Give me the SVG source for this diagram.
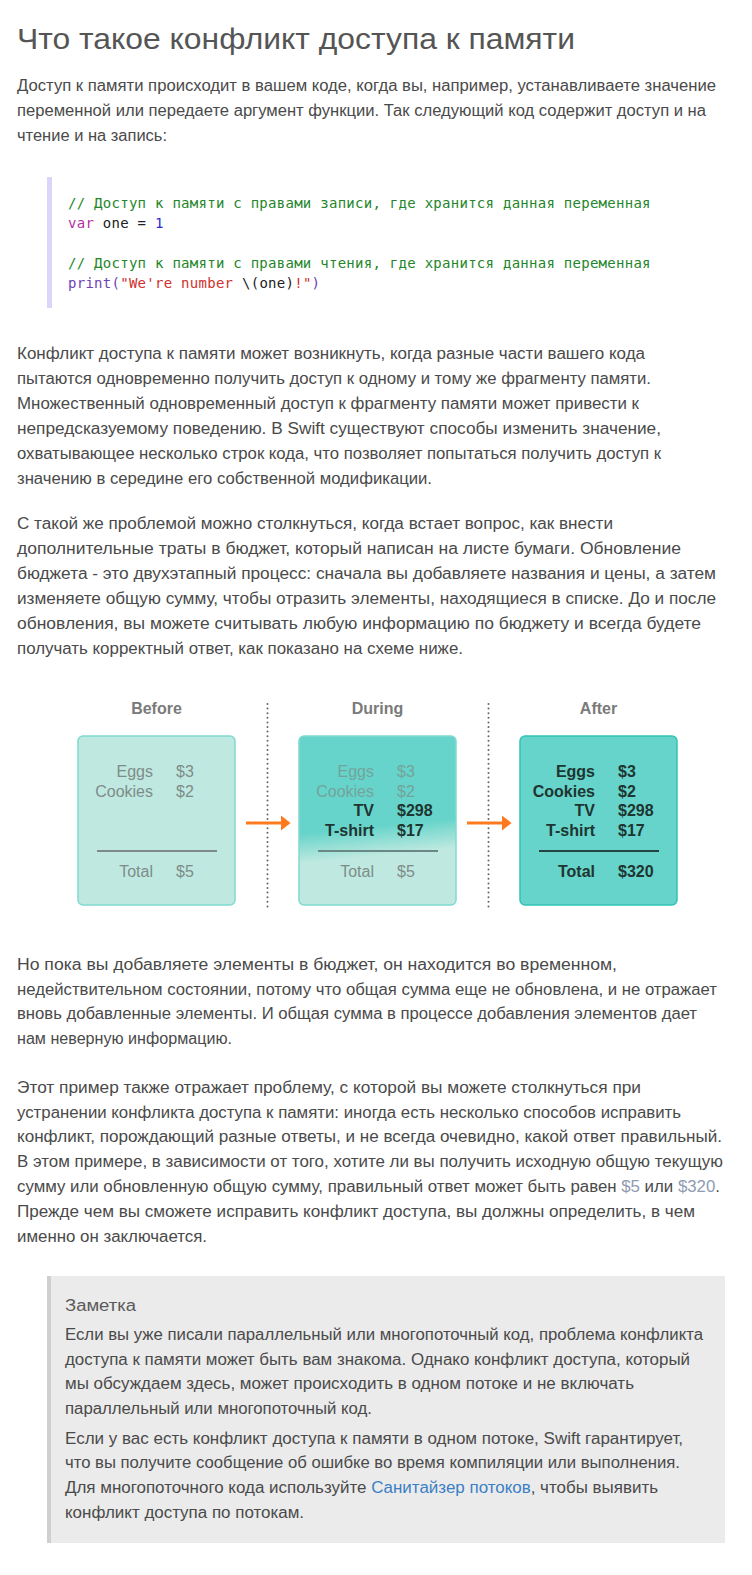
<svg xmlns="http://www.w3.org/2000/svg" width="752" height="1575" viewBox="0 0 752 1575">
<defs>
<style>
.title{font-family:"Liberation Sans",Arial,sans-serif;font-size:29px;fill:#555555}
.p{font-family:"Liberation Sans",Arial,sans-serif;font-size:16px;fill:#4a4a4a}
.code{font-family:"DejaVu Sans Mono",monospace;font-size:14px;letter-spacing:0.27px}
.cm{fill:#24862a}
.kw{fill:#b4309f}
.num{fill:#2b2bd6}
.fn{fill:#6f3fb5}
.str{fill:#d0312d}
.pl{fill:#222222}
.lbl{font-family:"Liberation Sans",Arial,sans-serif;font-size:16px;font-weight:bold;fill:#7a7a7a;text-anchor:middle}
.it{font-family:"Liberation Sans",Arial,sans-serif;font-size:16px}
.end{text-anchor:end}
.b{font-weight:bold}
.g1{fill:#7e8c89}
.g2{fill:#74a39c}
.dk{fill:#1e3531}
.amt{fill:#8e9bb0}
.lnk{fill:#3b7fc4}
.dots{stroke:#666666;stroke-width:2;stroke-linecap:round;stroke-dasharray:0 4.6;fill:none}
.arr{stroke:#ff7a1f;stroke-width:3;fill:none}
</style>
<linearGradient id="gDuring" gradientUnits="userSpaceOnUse" x1="376" y1="826" x2="379" y2="856">
<stop offset="0" stop-color="#66d4ca"/>
<stop offset="1" stop-color="#bfe9e0"/>
</linearGradient>
<marker id="ah" markerWidth="4" markerHeight="5" refX="1" refY="2.5" orient="auto" markerUnits="strokeWidth">
<path d="M0,0 L3.2,2.5 L0,5 Z" fill="#ff7a1f"/>
</marker>
</defs>
<rect width="752" height="1575" fill="#ffffff"/>

<g id="title">
<text class="title" x="17" y="49" textLength="558" lengthAdjust="spacingAndGlyphs">Что такое конфликт доступа к памяти</text>
</g>

<g id="para1">
<text class="p" x="17" y="91" textLength="699" lengthAdjust="spacingAndGlyphs">Доступ к памяти происходит в вашем коде, когда вы, например, устанавливаете значение</text>
<text class="p" x="17" y="116" textLength="689" lengthAdjust="spacingAndGlyphs">переменной или передаете аргумент функции. Так следующий код содержит доступ и на</text>
<text class="p" x="17" y="141" textLength="150" lengthAdjust="spacingAndGlyphs">чтение и на запись:</text>
</g>

<g id="code-block">
<rect x="47" y="177" width="5" height="131" fill="#dad6fa"/>
<text class="code" x="68" y="208"><tspan class="cm">// Доступ к памяти с правами записи, где хранится данная переменная</tspan></text>
<text class="code" x="68" y="228"><tspan class="kw">var</tspan><tspan class="pl"> one = </tspan><tspan class="num">1</tspan></text>
<text class="code" x="68" y="268"><tspan class="cm">// Доступ к памяти с правами чтения, где хранится данная переменная</tspan></text>
<text class="code" x="68" y="288"><tspan class="fn">print(</tspan><tspan class="str">"We're number </tspan><tspan class="pl">\(one)</tspan><tspan class="str">!"</tspan><tspan class="fn">)</tspan></text>
</g>

<g id="para2">
<text class="p" x="17" y="359" textLength="628" lengthAdjust="spacingAndGlyphs">Конфликт доступа к памяти может возникнуть, когда разные части вашего кода</text>
<text class="p" x="17" y="384" textLength="634" lengthAdjust="spacingAndGlyphs">пытаются одновременно получить доступ к одному и тому же фрагменту памяти.</text>
<text class="p" x="17" y="409" textLength="622" lengthAdjust="spacingAndGlyphs">Множественный одновременный доступ к фрагменту памяти может привести к</text>
<text class="p" x="17" y="434" textLength="644" lengthAdjust="spacingAndGlyphs">непредсказуемому поведению. В Swift существуют способы изменить значение,</text>
<text class="p" x="17" y="459" textLength="644" lengthAdjust="spacingAndGlyphs">охватывающее несколько строк кода, что позволяет попытаться получить доступ к</text>
<text class="p" x="17" y="484" textLength="415" lengthAdjust="spacingAndGlyphs">значению в середине его собственной модификации.</text>
</g>

<g id="para3">
<text class="p" x="17" y="529" textLength="596" lengthAdjust="spacingAndGlyphs">С такой же проблемой можно столкнуться, когда встает вопрос, как внести</text>
<text class="p" x="17" y="554" textLength="664" lengthAdjust="spacingAndGlyphs">дополнительные траты в бюджет, который написан на листе бумаги. Обновление</text>
<text class="p" x="17" y="579" textLength="699" lengthAdjust="spacingAndGlyphs">бюджета - это двухэтапный процесс: сначала вы добавляете названия и цены, а затем</text>
<text class="p" x="17" y="604" textLength="699" lengthAdjust="spacingAndGlyphs">изменяете общую сумму, чтобы отразить элементы, находящиеся в списке. До и после</text>
<text class="p" x="17" y="629" textLength="684" lengthAdjust="spacingAndGlyphs">обновления, вы можете считывать любую информацию по бюджету и всегда будете</text>
<text class="p" x="17" y="654" textLength="446" lengthAdjust="spacingAndGlyphs">получать корректный ответ, как показано на схеме ниже.</text>
</g>

<g id="label-before"><text class="lbl" x="156.5" y="714">Before</text></g>
<g id="label-during"><text class="lbl" x="377.5" y="714">During</text></g>
<g id="label-after"><text class="lbl" x="598.5" y="714">After</text></g>

<g id="box-before">
<rect x="78" y="736" width="157" height="169" rx="5" fill="#bfe9e0" stroke="#7fdacf" stroke-width="1.5"/>
<text class="it end g1" x="153" y="777">Eggs</text><text class="it g1" x="176" y="777">$3</text>
<text class="it end g1" x="153" y="797">Cookies</text><text class="it g1" x="176" y="797">$2</text>
<line x1="97" y1="851" x2="217" y2="851" stroke="#7d8a87" stroke-width="2"/>
<text class="it end g1" x="153" y="877">Total</text><text class="it g1" x="176" y="877">$5</text>
</g>

<g id="box-during">
<rect x="299" y="736" width="157" height="169" rx="5" fill="url(#gDuring)" stroke="#7fdacf" stroke-width="1.5"/>
<text class="it end g2" x="374" y="777">Eggs</text><text class="it g2" x="397" y="777">$3</text>
<text class="it end g2" x="374" y="797">Cookies</text><text class="it g2" x="397" y="797">$2</text>
<text class="it end b dk" x="374" y="816">TV</text><text class="it b dk" x="397" y="816">$298</text>
<text class="it end b dk" x="374" y="836">T-shirt</text><text class="it b dk" x="397" y="836">$17</text>
<line x1="318" y1="851" x2="438" y2="851" stroke="#6b8984" stroke-width="2"/>
<text class="it end g1" x="374" y="877">Total</text><text class="it g1" x="397" y="877">$5</text>
</g>

<g id="box-after">
<rect x="520" y="736" width="157" height="169" rx="5" fill="#66d4ca" stroke="#33c4b5" stroke-width="1.5"/>
<text class="it end b dk" x="595" y="777">Eggs</text><text class="it b dk" x="618" y="777">$3</text>
<text class="it end b dk" x="595" y="797">Cookies</text><text class="it b dk" x="618" y="797">$2</text>
<text class="it end b dk" x="595" y="816">TV</text><text class="it b dk" x="618" y="816">$298</text>
<text class="it end b dk" x="595" y="836">T-shirt</text><text class="it b dk" x="618" y="836">$17</text>
<line x1="539" y1="851" x2="659" y2="851" stroke="#25433f" stroke-width="2"/>
<text class="it end b dk" x="595" y="877">Total</text><text class="it b dk" x="618" y="877">$320</text>
</g>

<g id="connectors">
<line class="dots" x1="267.5" y1="704" x2="267.5" y2="909"/>
<line class="dots" x1="488.5" y1="704" x2="488.5" y2="909"/>
<line class="arr" x1="246" y1="823" x2="284" y2="823" marker-end="url(#ah)"/>
<line class="arr" x1="467" y1="823" x2="505" y2="823" marker-end="url(#ah)"/>
</g>

<g id="para4">
<text class="p" x="17" y="970" textLength="600" lengthAdjust="spacingAndGlyphs">Но пока вы добавляете элементы в бюджет, он находится во временном,</text>
<text class="p" x="17" y="995" textLength="700" lengthAdjust="spacingAndGlyphs">недействительном состоянии, потому что общая сумма еще не обновлена, и не отражает</text>
<text class="p" x="17" y="1019" textLength="680" lengthAdjust="spacingAndGlyphs">вновь добавленные элементы. И общая сумма в процессе добавления элементов дает</text>
<text class="p" x="17" y="1044" textLength="215" lengthAdjust="spacingAndGlyphs">нам неверную информацию.</text>
</g>

<g id="para5">
<text class="p" x="17" y="1093" textLength="624" lengthAdjust="spacingAndGlyphs">Этот пример также отражает проблему, с которой вы можете столкнуться при</text>
<text class="p" x="17" y="1118" textLength="664" lengthAdjust="spacingAndGlyphs">устранении конфликта доступа к памяти: иногда есть несколько способов исправить</text>
<text class="p" x="17" y="1142" textLength="705" lengthAdjust="spacingAndGlyphs">конфликт, порождающий разные ответы, и не всегда очевидно, какой ответ правильный.</text>
<text class="p" x="17" y="1167" textLength="706" lengthAdjust="spacingAndGlyphs">В этом примере, в зависимости от того, хотите ли вы получить исходную общую текущую</text>
<text class="p" x="17" y="1192" textLength="703" lengthAdjust="spacingAndGlyphs">сумму или обновленную общую сумму, правильный ответ может быть равен <tspan class="amt">$5</tspan> или <tspan class="amt">$320</tspan>.</text>
<text class="p" x="17" y="1217" textLength="678" lengthAdjust="spacingAndGlyphs">Прежде чем вы сможете исправить конфликт доступа, вы должны определить, в чем</text>
<text class="p" x="17" y="1242" textLength="190" lengthAdjust="spacingAndGlyphs">именно он заключается.</text>
</g>

<g id="note">
<rect x="47" y="1276" width="678" height="267" fill="#ebebeb"/>
<rect x="47" y="1276" width="4" height="267" fill="#cfcfcf"/>
<text class="p" x="65" y="1311" style="fill:#5a5a5a" textLength="71" lengthAdjust="spacingAndGlyphs">Заметка</text>
<text class="p" x="65" y="1340" textLength="638" lengthAdjust="spacingAndGlyphs">Если вы уже писали параллельный или многопоточный код, проблема конфликта</text>
<text class="p" x="65" y="1365" textLength="625" lengthAdjust="spacingAndGlyphs">доступа к памяти может быть вам знакома. Однако конфликт доступа, который</text>
<text class="p" x="65" y="1389" textLength="569" lengthAdjust="spacingAndGlyphs">мы обсуждаем здесь, может происходить в одном потоке и не включать</text>
<text class="p" x="65" y="1414" textLength="307" lengthAdjust="spacingAndGlyphs">параллельный или многопоточный код.</text>
<text class="p" x="65" y="1444" textLength="618" lengthAdjust="spacingAndGlyphs">Если у вас есть конфликт доступа к памяти в одном потоке, Swift гарантирует,</text>
<text class="p" x="65" y="1468" textLength="615" lengthAdjust="spacingAndGlyphs">что вы получите сообщение об ошибке во время компиляции или выполнения.</text>
<text class="p" x="65" y="1493" textLength="593" lengthAdjust="spacingAndGlyphs">Для многопоточного кода используйте <tspan class="lnk">Санитайзер потоков</tspan>, чтобы выявить</text>
<text class="p" x="65" y="1518" textLength="239" lengthAdjust="spacingAndGlyphs">конфликт доступа по потокам.</text>
</g>
</svg>
